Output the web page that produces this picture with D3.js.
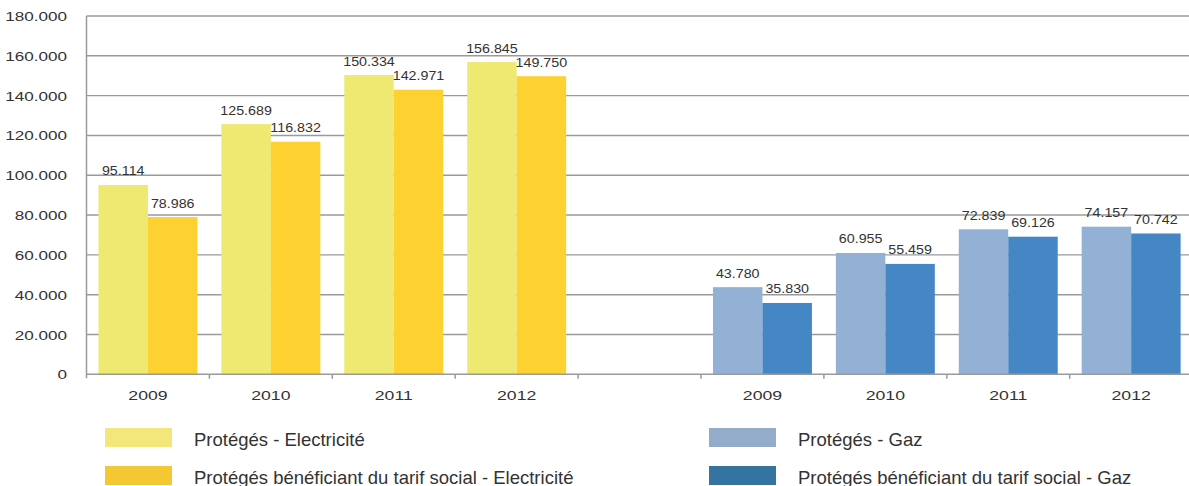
<!DOCTYPE html>
<html>
<head>
<meta charset="utf-8">
<script src="https://cdn.jsdelivr.net/npm/d3@7"></script>
<style>
  html, body { margin: 0; padding: 0; background: #fff; }
  svg { display: block; font-family: "Liberation Sans", Arial, sans-serif; }
</style>
</head>
<body>
<svg id="chart" width="1189" height="486"></svg>
<script>
// Categories along the x axis (electricity group, empty slot, gas group)
const years = ["2009", "2010", "2011", "2012"];
const slots = ["E2009", "E2010", "E2011", "E2012", "gap", "G2009", "G2010", "G2011", "G2012"];

// Series values
const protegesElec = [95114, 125689, 150334, 156845];
const tarifSocialElec = [78986, 116832, 142971, 149750];
const protegesGaz = [43780, 60955, 72839, 74157];
const tarifSocialGaz = [35830, 55459, 69126, 70742];

// Y axis ticks
const yTicks = [0, 20000, 40000, 60000, 80000, 100000, 120000, 140000, 160000, 180000];

// Legend entries
const legendLabels = [
  "Protégés - Electricité",
  "Protégés bénéficiant du tarif social - Electricité",
  "Protégés - Gaz",
  "Protégés bénéficiant du tarif social - Gaz"
];

const colors = {
  elecLight: "#EEE970", elecDark: "#FDD12F",
  gazLight: "#92B1D4", gazDark: "#4586C4"
};
const legendColors = ["#F3E67A", "#F3C832", "#93ACC9", "#3573A0"];

const svg = d3.select("#chart");
const plotLeft = 86.5, plotRight = 86.5 + 9 * 122.9, plotTop = 16, plotBottom = 374.3;

const fmt = d3.formatLocale({ decimal: ",", thousands: ".", grouping: [3], currency: ["", "€"] }).format(",d");

const x = d3.scaleBand().domain(slots).range([plotLeft, plotRight]).padding(0);
const sub = d3.scaleBand().domain([0, 1]).range([0, x.bandwidth()]).paddingInner(0).paddingOuter(0.242);
const y = d3.scaleLinear().domain([0, 180000]).range([plotBottom, plotTop]);

// Horizontal gridlines
svg.append("g").selectAll("line").data(yTicks.filter(d => d > 0)).join("line")
  .attr("x1", plotLeft).attr("x2", 1189)
  .attr("y1", d => y(d)).attr("y2", d => y(d))
  .attr("stroke", "#9a9a9a").attr("stroke-width", 1.4);

// Bars
const groups = [
  { prefix: "E", a: protegesElec, b: tarifSocialElec, ca: colors.elecLight, cb: colors.elecDark },
  { prefix: "G", a: protegesGaz, b: tarifSocialGaz, ca: colors.gazLight, cb: colors.gazDark }
];
const barData = [];
groups.forEach(g => {
  years.forEach((yr, i) => {
    barData.push({ slot: g.prefix + yr, k: 0, v: g.a[i], c: g.ca });
    barData.push({ slot: g.prefix + yr, k: 1, v: g.b[i], c: g.cb });
  });
});

svg.append("g").selectAll("rect").data(barData).join("rect")
  .attr("x", d => x(d.slot) + sub(d.k))
  .attr("width", sub.bandwidth())
  .attr("y", d => y(d.v))
  .attr("height", d => y(0) - y(d.v))
  .attr("fill", d => d.c);

// Value labels above each bar (drawn slightly stretched horizontally)
svg.append("g").selectAll("text").data(barData).join("text")
  .attr("transform", d => `translate(${x(d.slot) + sub(d.k) + sub.bandwidth() / 2},${y(d.v) - 9.5}) scale(1.19,1)`)
  .attr("text-anchor", "middle")
  .attr("font-size", 12)
  .attr("fill", "#333")
  .text(d => fmt(d.v));

// Y axis
const yAxis = svg.append("g").attr("transform", `translate(${plotLeft},0)`)
  .call(d3.axisLeft(y).tickValues(yTicks).tickSize(0).tickFormat(d => fmt(d)));
yAxis.select(".domain").remove();
yAxis.selectAll("text")
  .attr("x", 0).attr("dy", "0.36em")
  .attr("transform", "translate(-19.5,0) scale(1.36,1)")
  .attr("font-size", 12.6).attr("font-family", "Liberation Sans, Arial, sans-serif")
  .attr("fill", "#333");
svg.append("line")
  .attr("x1", plotLeft).attr("x2", plotLeft).attr("y1", plotTop).attr("y2", plotBottom + 4)
  .attr("stroke", "#9a9a9a").attr("stroke-width", 1.5);

// X axis baseline and band separators
const xAxis = svg.append("g").attr("transform", `translate(0,${plotBottom})`)
  .call(d3.axisBottom(x).tickSize(0).tickFormat(d => d === "gap" ? "" : d.slice(1)));
xAxis.select(".domain").attr("d", `M${plotLeft},0H1189`).attr("stroke", "#9a9a9a").attr("stroke-width", 1.5);
xAxis.selectAll("text")
  .attr("y", 0).attr("dy", 0)
  .attr("transform", "translate(0,26) scale(1.38,1)")
  .attr("font-size", 12.8).attr("font-family", "Liberation Sans, Arial, sans-serif")
  .attr("fill", "#333");
svg.append("g").selectAll("line").data(slots.slice(1).map(s => x(s)).concat([plotRight])).join("line")
  .attr("x1", d => d).attr("x2", d => d)
  .attr("y1", plotBottom).attr("y2", plotBottom + 4.5)
  .attr("stroke", "#9a9a9a").attr("stroke-width", 1.5);

// Legend
const legendPos = [
  { x: 105, y: 428 }, { x: 105, y: 466 },
  { x: 709, y: 428 }, { x: 709, y: 466 }
];
const legend = svg.append("g").selectAll("g").data(legendLabels).join("g")
  .attr("transform", (d, i) => `translate(${legendPos[i].x},${legendPos[i].y})`);
legend.append("rect").attr("width", 67).attr("height", 19).attr("fill", (d, i) => legendColors[i]);
legend.append("text").attr("x", 89).attr("y", 18)
  .attr("font-size", 18.5).attr("fill", "#333").text(d => d);
</script>
</body>
</html>
